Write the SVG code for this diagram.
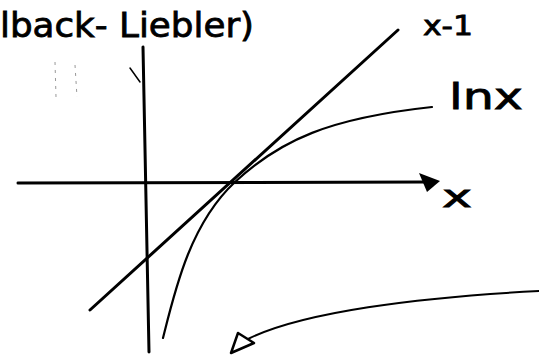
<svg xmlns="http://www.w3.org/2000/svg" width="539" height="359" viewBox="0 0 539 359">
<style>
.ink{fill:none;stroke:#000;stroke-linecap:round;stroke-linejoin:round}
.t{font-family:"DejaVu Sans","Liberation Sans",sans-serif;fill:#000;stroke:#000;stroke-width:0.8}
</style>
<rect width="539" height="359" fill="#fff"/>
<g id="title"><text class="t" x="0" y="37" font-size="34" textLength="254" lengthAdjust="spacingAndGlyphs">lback- Liebler)</text></g>
<g id="marks">
<line class="ink" x1="130" y1="68" x2="140" y2="82" stroke-width="1.5"/>
<line x1="55" y1="62" x2="56" y2="97" stroke="#999" stroke-width="1" stroke-dasharray="3 5"/>
<line x1="75" y1="65" x2="77" y2="97" stroke="#999" stroke-width="1" stroke-dasharray="3 5"/>
</g>
<g id="axes">
<line class="ink" x1="18" y1="183" x2="425" y2="182" stroke-width="3"/>
<polygon points="419,173 440,181 427,192" fill="#000"/>
<line class="ink" x1="143" y1="47" x2="149" y2="352" stroke-width="3"/>
</g>
<g id="curves">
<line class="ink" x1="90" y1="310" x2="398" y2="30" stroke-width="3"/>
<path class="ink" d="M163,338 C175,290 190,224 235,182 S330,118 432,107" stroke-width="2.2"/>
</g>
<g id="labels">
<text class="t" x="423" y="35" font-size="26" textLength="50" lengthAdjust="spacingAndGlyphs">x-1</text>
<text class="t" x="449" y="109" font-size="36" textLength="74" lengthAdjust="spacingAndGlyphs">lnx</text>
<text class="t" x="442" y="207" font-size="30" textLength="30" lengthAdjust="spacingAndGlyphs">x</text>
</g>
<g id="connectors">
<path class="ink" d="M539,291 C420,297 300,312 246,340" stroke-width="2"/>
<polygon points="231,353 238,333 254,343" fill="#fff" stroke="#000" stroke-width="2.5" stroke-linejoin="round"/>
</g>
</svg>
